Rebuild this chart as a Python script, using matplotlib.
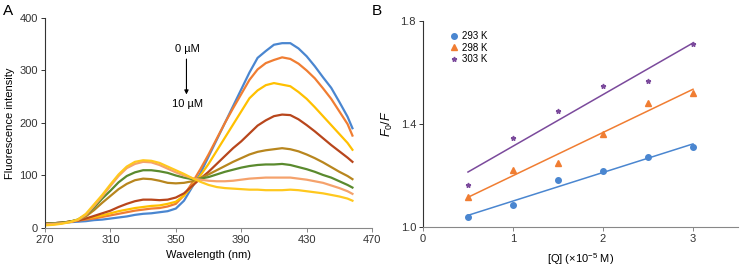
import numpy as np
import matplotlib
matplotlib.use("Agg")
import matplotlib.pyplot as plt

plt.rcParams['font.family'] = ['Liberation Sans', 'DejaVu Sans']
plt.rcParams['mathtext.fontset'] = 'custom'
plt.rcParams['mathtext.rm'] = 'Liberation Sans'
plt.rcParams['mathtext.it'] = 'Liberation Sans:italic'

# ---- panel A: emission spectra, 0 -> 10 uM quencher
wavelength = [270, 275, 280, 285, 290, 295, 300, 305, 310, 315, 320, 325, 330,
              335, 340, 345, 350, 355, 360, 365, 370, 375, 380, 385, 390, 395,
              400, 405, 410, 415, 420, 425, 430, 435, 440, 445, 450, 455, 458]

spec_1 = [8, 9, 10, 11, 12, 13, 15, 16, 18, 20, 22, 25, 27, 28, 30, 32, 37, 52, 78,
          104, 136, 168, 200, 232, 264, 296, 324, 337, 349, 352, 352, 342, 327,
          308, 287, 267, 240, 212, 190]
spec_2 = [8, 9, 10, 12, 14, 16, 18, 21, 24, 27, 30, 33, 35, 37, 38, 41, 46, 62, 86,
          112, 140, 170, 200, 228, 255, 282, 302, 314, 320, 325, 322, 313, 300,
          285, 266, 246, 222, 198, 176]
spec_3 = [6, 7, 9, 12, 15, 18, 21, 24, 28, 32, 35, 38, 40, 42, 43, 46, 50, 62, 80,
          100, 122, 147, 172, 197, 222, 247, 262, 272, 276, 273, 270, 259, 246,
          230, 213, 196, 179, 162, 149]
spec_4 = [8, 9, 10, 12, 14, 18, 23, 28, 33, 40, 46, 51, 54, 54, 53, 54, 58, 66, 80,
          94, 107, 122, 137, 152, 165, 180, 195, 205, 213, 216, 215, 207, 196,
          184, 171, 158, 146, 134, 126]
spec_5 = [8, 9, 10, 12, 15, 22, 34, 48, 61, 74, 84, 91, 94, 93, 90, 86, 85, 86, 89,
          95, 102, 110, 118, 126, 133, 140, 145, 148, 150, 152, 150, 146, 140,
          133, 125, 116, 107, 99, 93]
spec_6 = [8, 9, 10, 12, 16, 25, 39, 56, 71, 87, 99, 106, 110, 110, 108, 105, 100,
          96, 93, 94, 97, 102, 107, 111, 115, 118, 120, 121, 121, 122, 120, 116,
          112, 107, 101, 96, 89, 82, 77]
spec_7 = [7, 8, 9, 11, 15, 25, 42, 60, 80, 99, 114, 122, 126, 125, 120, 113, 106,
          100, 95, 92, 90, 89, 89, 90, 92, 94, 95, 96, 96, 96, 96, 94, 92, 89, 86,
          81, 76, 70, 65]
spec_8 = [5, 6, 8, 11, 16, 27, 45, 63, 83, 102, 117, 126, 129, 128, 124, 117, 110,
          103, 95, 88, 82, 78, 76, 75, 74, 73, 73, 72, 72, 72, 73, 72, 70, 68, 66,
          63, 60, 56, 52]

spectra = [spec_1, spec_2, spec_3, spec_4, spec_5, spec_6, spec_7, spec_8]
spec_colors = ['#4a86d0', '#f07d32', '#ffc000', '#b8461c', '#b8861e', '#5a8a2e',
               '#f5a26c', '#ffc81e']

# ---- panel B: Stern-Volmer plot
conc = [0.5, 1.0, 1.5, 2.0, 2.5, 3.0]
f0f_293 = [1.038, 1.087, 1.183, 1.216, 1.270, 1.310]
f0f_298 = [1.115, 1.220, 1.249, 1.362, 1.483, 1.522]
f0f_303 = [1.162, 1.345, 1.452, 1.548, 1.566, 1.712]
temps = ['293 K', '298 K', '303 K']

fig = plt.figure(figsize=(7.4, 2.71), dpi=100)

axA = fig.add_axes([0.0608, 0.1587, 0.442, 0.775])
for s, c in zip(spectra, spec_colors):
    axA.plot(wavelength, s, color=c, lw=1.6)
axA.set_xlim(270, 470)
axA.set_ylim(0, 400)
axA.set_xticks([270, 310, 350, 390, 430, 470])
axA.set_yticks([0, 100, 200, 300, 400])
axA.set_xlabel('Wavelength (nm)', fontsize=8, labelpad=4)
axA.set_ylabel('Fluorescence intensity', fontsize=8, labelpad=3)
axA.text(357, 341, '0 µM', fontsize=8, ha='center', va='center')
axA.text(357, 236, '10 µM', fontsize=8, ha='center', va='center')
axA.annotate('', xy=(356.5, 249), xytext=(356.5, 327),
             arrowprops=dict(arrowstyle='-|>', color='black', lw=0.8,
                             mutation_scale=6))

axB = fig.add_axes([0.5716, 0.1624, 0.4257, 0.760])
markers = ['o', '^', '*']
b_colors = ['#4a86d0', '#f07d32', '#7b4a9c']
msizes = [4, 4, 3.5]
for y, lab, m, c, ms in zip([f0f_293, f0f_298, f0f_303], temps, markers, b_colors, msizes):
    k, b = np.polyfit(conc, y, 1)
    axB.plot([conc[0], conc[-1]], [k * conc[0] + b, k * conc[-1] + b], color=c, lw=1.1)
    axB.plot(conc, y, ls='none', marker=m, ms=ms, color=c, mec=c, label=lab)
axB.set_xlim(0, 3.5)
axB.set_ylim(1.0, 1.8)
axB.set_xticks([0, 1, 2, 3])
axB.set_yticks([1.0, 1.4, 1.8])
axB.set_xlabel('[Q] (×10$^{-5}$ M)', fontsize=8, labelpad=5)
axB.set_ylabel('$F_0/F$', fontsize=9, labelpad=4)
axB.legend(loc='upper left', bbox_to_anchor=(0.07, 0.97), frameon=False,
           fontsize=7, handlelength=1.0, handletextpad=0.3, labelspacing=0.15,
           borderaxespad=0)

for ax in (axA, axB):
    ax.spines['top'].set_visible(False)
    ax.spines['right'].set_visible(False)
    ax.spines['left'].set_color('#333333')
    ax.spines['bottom'].set_color('#888888')
    ax.tick_params(labelsize=8, length=3, width=0.7, colors='#333333', pad=2)
    ax.tick_params(axis='x', colors='#888888', labelcolor='#333333')

fig.text(0.004, 0.985, 'A', fontsize=11, va='top')
fig.text(0.503, 0.985, 'B', fontsize=11, va='top')

fig.savefig('out.png', dpi=100)
